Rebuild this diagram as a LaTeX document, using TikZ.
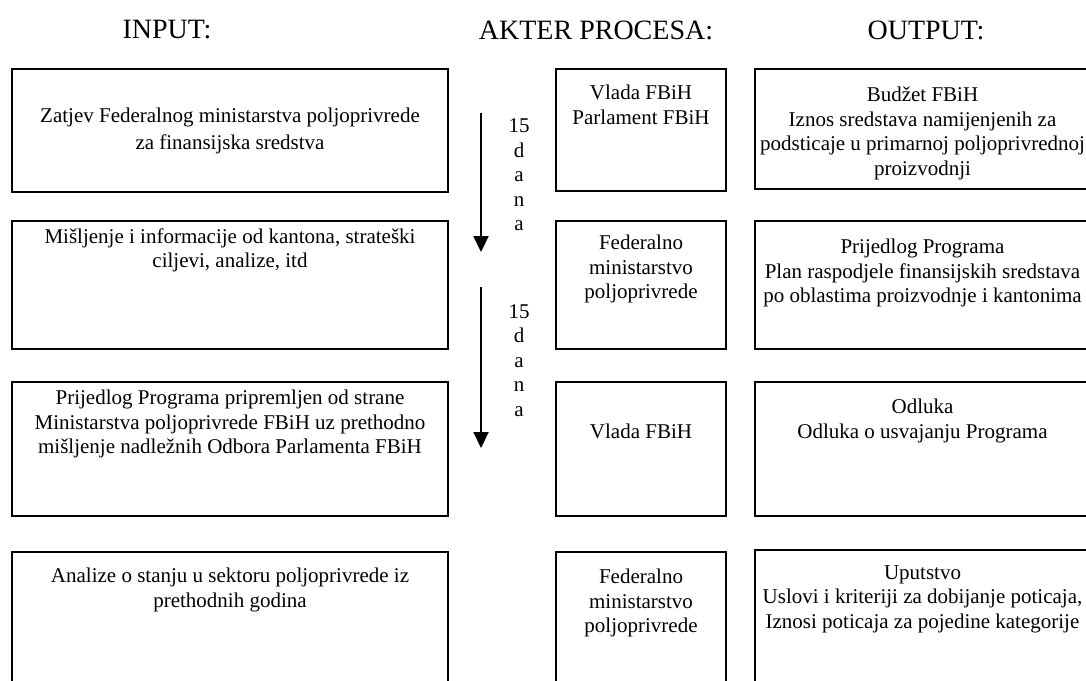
\documentclass[tikz,border=0pt]{standalone}
\usepackage{fontspec}
\setmainfont{Liberation Serif}
\usetikzlibrary{arrows.meta,positioning}
\tikzstyle{line} = [draw, line width=2.2pt, -{Triangle[width=15pt,length=16pt]}]
\tikzstyle{box} = [draw, line width=1.7pt, rectangle, inner sep=0pt]
\tikzstyle{txt} = [align=center, inner sep=0pt, font=\fontsize{21}{24.5}\selectfont]
\tikzstyle{head} = [inner sep=0pt, font=\fontsize{28}{32}\selectfont]

\begin{document}
\begin{tikzpicture}[x=1pt, y=-1pt]
        \clip (0,0) rectangle (1086,680);
        % column titles
        \node[head] (hin) at (167,30) {INPUT:};
        \node[head] (hakt) at (596,30) {AKTER PROCESA:};
        \node[head] (hout) at (926,30) {OUTPUT:};
        % input boxes
        \node[box, minimum width=436pt, minimum height=123pt] (in1) at (230,130.5) {};
        \node[box, minimum width=436pt, minimum height=128pt] (in2) at (230,285) {};
        \node[box, minimum width=436pt, minimum height=134pt] (in3) at (230,449) {};
        \node[box, minimum width=436pt, minimum height=148pt] (in4) at (230,626) {};
        % akteri
        \node[box, minimum width=170pt, minimum height=122pt] (akt1) at (641,130) {};
        \node[box, minimum width=170pt, minimum height=128pt] (akt2) at (641,285) {};
        \node[box, minimum width=170pt, minimum height=134pt] (akt3) at (641,449) {};
        \node[box, minimum width=170pt, minimum height=148pt] (akt4) at (641,626) {};
        % output boxes
        \node[box, minimum width=335pt, minimum height=120pt] (out1) at (922.5,129) {};
        \node[box, minimum width=335pt, minimum height=128pt] (out2) at (922.5,285) {};
        \node[box, minimum width=335pt, minimum height=134pt] (out3) at (922.5,449) {};
        \node[box, minimum width=335pt, minimum height=150pt] (out4) at (922.5,625) {};
        % texts
        \node[txt, font=\fontsize{21}{27}\selectfont] (in1t) at (in1.center) {Zatjev Federalnog ministarstva poljoprivrede\\za finansijska sredstva};
        \node[txt, below=8pt of in2.north] (in2t) {Mišljenje i informacije od kantona, strateški\\ciljevi, analize, itd};
        \node[txt, below=9pt of in3.north] (in3t) {Prijedlog Programa pripremljen od strane\\Ministarstva poljoprivrede FBiH uz prethodno\\mišljenje nadležnih Odbora Parlamenta FBiH};
        \node[txt, below=17pt of in4.north] (in4t) {Analize o stanju u sektoru poljoprivrede iz\\prethodnih godina};
        \node[txt, below=17pt of akt1.north] (akt1t) {Vlada FBiH\\Parlament FBiH};
        \node[txt, below=15pt of akt2.north] (akt2t) {Federalno\\ministarstvo\\poljoprivrede};
        \node[txt, below=43pt of akt3.north] (akt3t) {Vlada FBiH};
        \node[txt, below=18pt of akt4.north] (akt4t) {Federalno\\ministarstvo\\poljoprivrede};
        \node[txt, below=19pt of out1.north] (out1t) {Budžet FBiH\\Iznos sredstava namijenjenih za\\podsticaje u primarnoj poljoprivrednoj\\proizvodnji};
        \node[txt, below=19pt of out2.north] (out2t) {Prijedlog Programa\\Plan raspodjele finansijskih sredstava\\po oblastima proizvodnje i kantonima};
        \node[txt, below=18pt of out3.north] (out3t) {Odluka\\Odluka o usvajanju Programa};
        \node[txt, below=16pt of out4.north] (out4t) {Uputstvo\\Uslovi i kriteriji za dobijanje poticaja,\\Iznosi poticaja za pojedine kategorije};
        % rokovi
        \coordinate (r1s) at (481,113);
        \coordinate (r1e) at (481,252);
        \coordinate (r2s) at (481,287);
        \coordinate (r2e) at (481,448);
        \path[line] (r1s) -- (r1e);
        \path[line] (r2s) -- (r2e);
        \node[txt] (r1) at (519,175) {15\\d\\a\\n\\a};
        \node[txt] (r2) at (519,360.5) {15\\d\\a\\n\\a};
\end{tikzpicture}
\end{document}
